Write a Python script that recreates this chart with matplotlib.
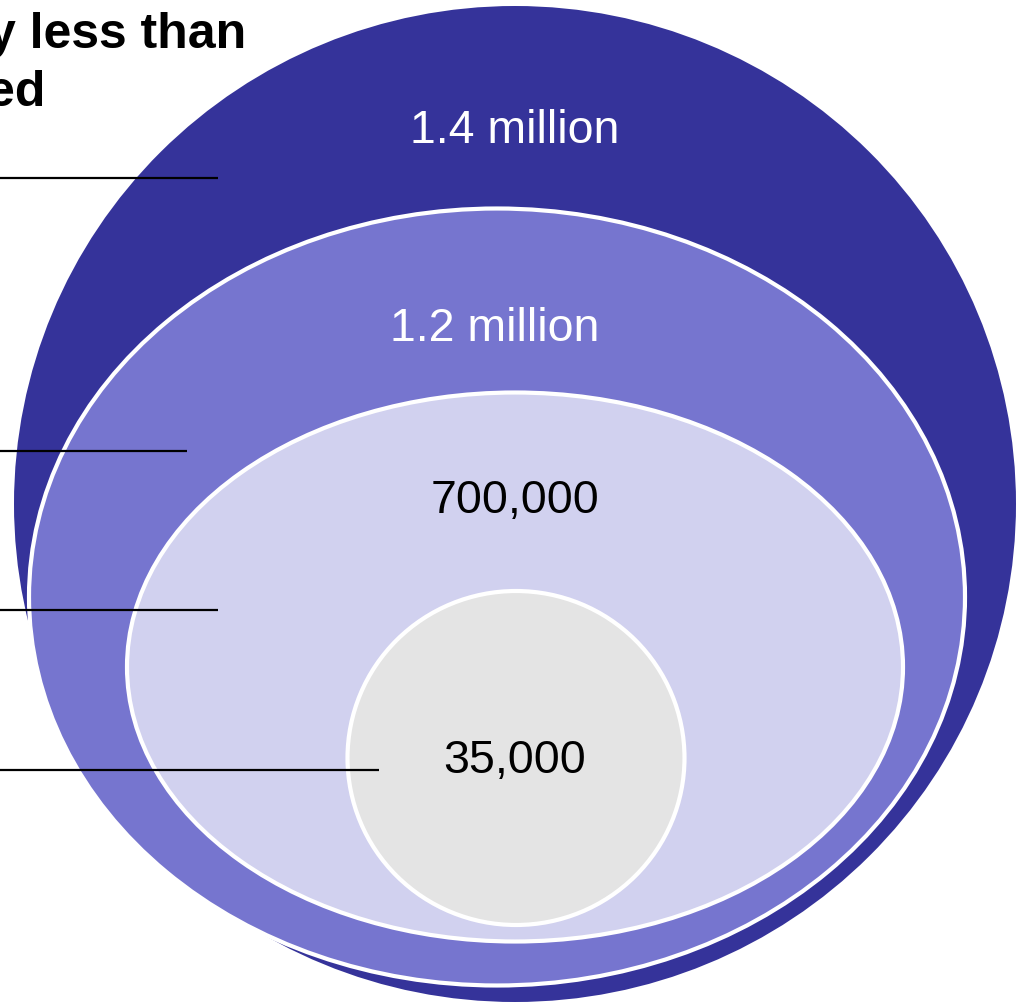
import matplotlib
matplotlib.use("Agg")
import matplotlib.pyplot as plt
from matplotlib.patches import Ellipse

plt.rcParams['font.family'] = ['Liberation Sans', 'DejaVu Sans']

# values shown in the nested ellipses (outer -> inner)
labels = ["1.4 million", "1.2 million", "700,000", "35,000"]
fills = ["#35339a", "#7675cf", "#d1d1ef", "#e4e4e4"]
text_colors = ["white", "white", "black", "black"]

# ellipse geometry in pixel space: centre x, centre y, width, height
cx = [515, 497, 515, 516]
cy = [504, 597, 667, 758]
widths = [1002, 936, 776, 337]
heights = [996, 777, 549, 334]
edges = ["none", "white", "white", "white"]

# label anchors (centre x, baseline y)
lab_x = [515, 495, 515, 515]
lab_y = [143, 341, 513, 773]

# leader lines coming in from the left
line_y = [178, 451, 610, 770]
line_end = [218, 187, 218, 379]

# heading is cut off by the left edge in the source
title_lines = ["y less than", "ed"]
title_right = [246, 45]
title_base = [48, 106]

fig = plt.figure(figsize=(10.19, 10.05), dpi=100)
ax = fig.add_axes([0, 0, 1, 1])
ax.set_xlim(0, 1019)
ax.set_ylim(1005, 0)
ax.axis('off')

for i in range(len(labels)):
    e = Ellipse((cx[i], cy[i]), widths[i], heights[i], facecolor=fills[i],
                edgecolor=edges[i], linewidth=3 if edges[i] != "none" else 0,
                zorder=1 + i)
    ax.add_patch(e)
    ax.text(lab_x[i], lab_y[i], labels[i], color=text_colors[i], fontsize=33.5,
            ha='center', va='baseline', zorder=10)

for y, x1 in zip(line_y, line_end):
    ax.plot([0, x1], [y, y], color='black', lw=1.6, zorder=11,
            solid_capstyle='butt')

for s, xr, yb in zip(title_lines, title_right, title_base):
    ax.text(xr, yb, s, fontsize=36, fontweight='bold',
            ha='right', va='baseline', zorder=12)

fig.savefig("out.png", dpi=100)
